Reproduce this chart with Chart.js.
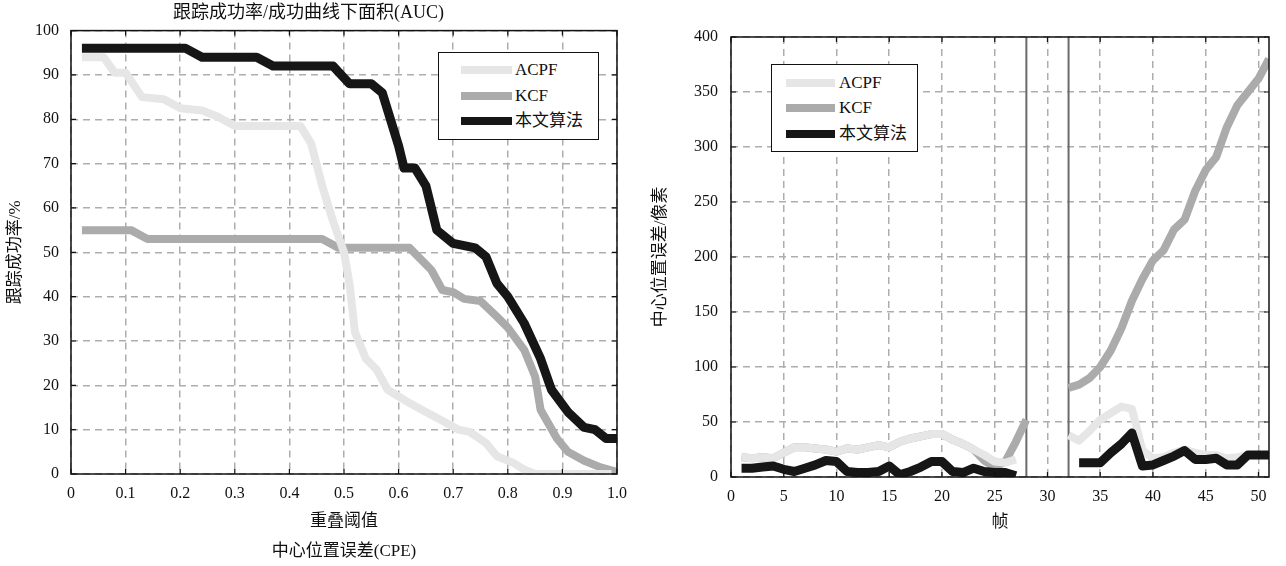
<!DOCTYPE html>
<html>
<head>
<meta charset="utf-8">
<script src="https://cdn.jsdelivr.net/npm/chart.js@4.4.1/dist/chart.umd.min.js"></script>
<style>
  html, body { margin: 0; padding: 0; background: #fff; }
  body { width: 1286px; height: 566px; position: relative; overflow: hidden;
         font-family: 'Liberation Serif', 'Noto Sans CJK SC', serif; }
  .box { position: absolute; top: 0; height: 566px; }
  #leftBox { left: 0; width: 640px; }
  #rightBox { left: 640px; width: 646px; }
  .legend { position: absolute; background: #fff; border: 1px solid #111; font-size: 17px; color: #111; }
  .legend .row { position: absolute; left: 0; right: 0; height: 20px; line-height: 20px; white-space: nowrap; }
  .legend .swatch { position: absolute; top: 6px; height: 8px; }
  .legend .txt { position: absolute; top: 0; }
</style>
</head>
<body>
<div class="box" id="leftBox"><canvas id="successChart"></canvas></div>
<div class="box" id="rightBox"><canvas id="errorChart"></canvas></div>
<div class="legend" id="legendLeft" style="left:438px;top:52px;width:159px;height:86px"></div>
<div class="legend" id="legendRight" style="left:771px;top:64px;width:145px;height:86px"></div>

<script>
/* ============ DATA ============ */
const seriesNames = ['ACPF', 'KCF', '本文算法'];
const seriesColors = ['#e6e6e6', '#ababab', '#161616'];

// left: success rate vs overlap threshold
const acpfX = [0.02, 0.06, 0.08, 0.10, 0.13, 0.17, 0.20, 0.24, 0.27, 0.30, 0.42, 0.44, 0.46, 0.48, 0.50, 0.51, 0.52, 0.54, 0.56, 0.58, 0.62, 0.65, 0.68, 0.71, 0.73, 0.76, 0.78, 0.81, 0.83, 0.85, 0.99];
const acpfY = [94, 94, 90.5, 90.5, 85, 84.5, 82.5, 82, 80.5, 78.5, 78.5, 74.5, 65, 57, 50, 43, 32, 26, 23.5, 19, 16, 14, 12, 10, 9.5, 7, 4, 2.5, 1, 0, 0];
const kcfX = [0.02, 0.11, 0.14, 0.46, 0.49, 0.62, 0.66, 0.68, 0.70, 0.72, 0.75, 0.78, 0.80, 0.83, 0.85, 0.86, 0.89, 0.91, 0.94, 0.97, 1.0];
const kcfY = [55, 55, 53, 53, 51, 51, 46, 41.5, 41, 39.5, 39, 35.5, 33, 28, 22, 14.5, 8, 5, 3, 1.5, 0.5];
const oursX = [0.02, 0.21, 0.24, 0.34, 0.37, 0.48, 0.51, 0.55, 0.57, 0.60, 0.61, 0.63, 0.65, 0.67, 0.70, 0.74, 0.76, 0.78, 0.80, 0.83, 0.86, 0.88, 0.91, 0.94, 0.96, 0.98, 1.0];
const oursY = [96, 96, 94, 94, 92, 92, 88, 88, 86, 74, 69, 69, 65, 55, 52, 51, 49, 43, 40, 34, 26, 19, 14, 10.5, 10, 8, 8];

// right: center position error per frame
const frames = [1, 2, 3, 4, 5, 6, 7, 8, 9, 10, 11, 12, 13, 14, 15, 16, 17, 18, 19, 20, 21, 22, 23, 24, 25, 26, 27, 28, 29, 30, 31, 32, 33, 34, 35, 36, 37, 38, 39, 40, 41, 42, 43, 44, 45, 46, 47, 48, 49, 50, 51];
const acpfErr = [18, 17, 18, 17, 22, 27, 27, 26, 25, 23, 26, 25, 27, 29, 27, 32, 35, 37, 39, 39, 34, 30, 25, 20, 14, 13, 16, null, null, null, null, 38, 33, 42, 52, 58, 64, 62, 24, 17, 18, 22, 25, 22, 20, 20, 17, 18, 20, 20, 20];
const kcfErr = [18, 17, 18, 17, 22, 27, 27, 26, 25, 23, 26, 25, 27, 29, 27, 32, 35, 37, 39, 39, 34, 30, 25, 15, 9, 14, 32, 52, null, null, null, 81, 84, 90, 100, 115, 135, 160, 180, 197, 206, 225, 234, 260, 279, 291, 318, 338, 350, 362, 380];
const oursErr = [8, 8, 9, 10, 7, 5, 8, 11, 15, 14, 5, 4, 4, 5, 10, 2, 5, 9, 14, 14, 5, 4, 8, 5, 4, 4, 1, null, null, null, null, null, 13, 13, 13, 22, 30, 40, 10, 11, 15, 19, 24, 16, 16, 17, 11, 11, 20, 20, 20];
const lostFrames = [28, 32];

/* ============ DEFAULTS ============ */
const FONT = "'Liberation Serif', 'Noto Sans CJK SC', serif";
Chart.defaults.font.family = FONT;
Chart.defaults.color = '#111';

const tickFont = { family: FONT, size: 16 };
const gridOpts = { color: '#adadad', lineWidth: 1.5, drawTicks: false };
const dashBorder = { display: false, dash: [7, 5] };

const lineStyle = (i) => ({
  label: seriesNames[i],
  borderColor: seriesColors[i],
  backgroundColor: seriesColors[i],
  borderWidth: i === 2 ? 9 : 8,
  borderJoinStyle: 'round',
  pointRadius: 0,
  tension: 0,
  fill: false,
  spanGaps: false,
  order: [1, 2, 0][i]
});

// box frame with small inward ticks
const framePlugin = {
  id: 'frame',
  afterDraw(chart) {
    const { ctx, chartArea: a, scales } = chart;
    ctx.save();
    ctx.strokeStyle = '#111';
    ctx.lineWidth = 1.5;
    ctx.strokeRect(a.left, a.top, a.right - a.left, a.bottom - a.top);
    ctx.lineWidth = 1.2;
    ctx.beginPath();
    scales.y.ticks.forEach(t => {
      const py = scales.y.getPixelForValue(t.value);
      ctx.moveTo(a.left, py); ctx.lineTo(a.left + 5, py);
      ctx.moveTo(a.right, py); ctx.lineTo(a.right - 5, py);
    });
    scales.x.ticks.forEach(t => {
      const px = scales.x.getPixelForValue(t.value);
      ctx.moveTo(px, a.bottom); ctx.lineTo(px, a.bottom - 5);
      ctx.moveTo(px, a.top); ctx.lineTo(px, a.top + 5);
    });
    ctx.stroke();
    ctx.restore();
  }
};

// vertical solid marker lines (lost-target frames)
const markerPlugin = {
  id: 'markers',
  beforeDatasetsDraw(chart, args, opts) {
    if (!opts.values) return;
    const { ctx, chartArea: a, scales } = chart;
    ctx.save();
    ctx.strokeStyle = '#6a6a6a';
    ctx.lineWidth = 2;
    opts.values.forEach(v => {
      const px = scales.x.getPixelForValue(v);
      ctx.beginPath(); ctx.moveTo(px, a.top); ctx.lineTo(px, a.bottom); ctx.stroke();
    });
    ctx.restore();
  }
};

/* ============ CHART 1: SUCCESS RATE ============ */
const pairs = (xs, ys) => xs.map((x, i) => ({ x, y: ys[i] }));

new Chart(document.getElementById('successChart'), {
  type: 'line',
  data: {
    datasets: [
      { ...lineStyle(0), data: pairs(acpfX, acpfY) },
      { ...lineStyle(1), data: pairs(kcfX, kcfY) },
      { ...lineStyle(2), data: pairs(oursX, oursY) }
    ]
  },
  options: {
    responsive: true, maintainAspectRatio: false, animation: false,
    layout: { padding: { left: 0, right: 23, top: 0, bottom: 0 } },
    plugins: {
      legend: { display: false }, tooltip: { enabled: false },
      title: { display: true, text: '跟踪成功率/成功曲线下面积(AUC)', color: '#111',
               font: { family: FONT, size: 18, weight: 'normal' }, padding: { top: 2, bottom: 7 } }
    },
    scales: {
      x: {
        type: 'linear', min: 0, max: 1,
        grid: gridOpts, border: dashBorder,
        ticks: { stepSize: 0.1, padding: 10, font: tickFont, color: '#111', maxRotation: 0,
                 callback: v => v === 0 ? '0' : v.toFixed(1) },
        title: { display: true, text: ['重叠阈值', '中心位置误差(CPE)'], color: '#111',
                 font: { family: FONT, size: 17, lineHeight: 1.76 }, padding: { top: 0, bottom: 0 } },
        afterFit: s => { s.height = 92; }
      },
      y: {
        min: 0, max: 100,
        grid: gridOpts, border: dashBorder,
        ticks: { stepSize: 10, padding: 12, font: tickFont, color: '#111' },
        title: { display: true, text: '跟踪成功率/%', color: '#111',
                 font: { family: FONT, size: 17 }, padding: { top: 5, bottom: 0 } },
        afterFit: s => { s.width = 71; }
      }
    }
  },
  plugins: [framePlugin]
});

/* ============ CHART 2: CENTER ERROR ============ */
new Chart(document.getElementById('errorChart'), {
  type: 'line',
  data: {
    datasets: [
      { ...lineStyle(0), data: pairs(frames, acpfErr) },
      { ...lineStyle(1), data: pairs(frames, kcfErr) },
      { ...lineStyle(2), data: pairs(frames, oursErr) }
    ]
  },
  options: {
    responsive: true, maintainAspectRatio: false, animation: false,
    layout: { padding: { left: 0, right: 17, top: 37, bottom: 0 } },
    plugins: {
      legend: { display: false }, tooltip: { enabled: false },
      markers: { values: lostFrames }
    },
    scales: {
      x: {
        type: 'linear', min: 0, max: 51,
        grid: gridOpts, border: dashBorder,
        ticks: { stepSize: 5, includeBounds: false, padding: 10, font: tickFont, color: '#111', maxRotation: 0 },
        title: { display: true, text: '帧', color: '#111',
                 font: { family: FONT, size: 17 }, padding: { top: 0, bottom: 33 } },
        afterFit: s => { s.height = 89; }
      },
      y: {
        min: 0, max: 400,
        grid: gridOpts, border: dashBorder,
        ticks: { stepSize: 50, padding: 13, font: tickFont, color: '#111' },
        title: { display: true, text: '中心位置误差/像素', color: '#111',
                 font: { family: FONT, size: 17 }, padding: { top: 10, bottom: 0 } },
        afterFit: s => { s.width = 91; }
      }
    }
  },
  plugins: [framePlugin, markerPlugin]
});

/* ============ LEGENDS ============ */
function buildLegend(id, rowTops, swLeft, swWidth, txtLeft) {
  document.getElementById(id).innerHTML = seriesNames.map((name, i) => `
    <div class="row" style="top:${rowTops[i]}px">
      <span class="swatch" style="left:${swLeft}px;width:${swWidth}px;background:${seriesColors[i]}"></span>
      <span class="txt" style="left:${txtLeft}px">${name}</span>
    </div>`).join('');
}
buildLegend('legendLeft', [7, 33, 58], 22, 51, 76);
buildLegend('legendRight', [8, 33, 59], 14, 49, 67);
</script>
</body>
</html>
